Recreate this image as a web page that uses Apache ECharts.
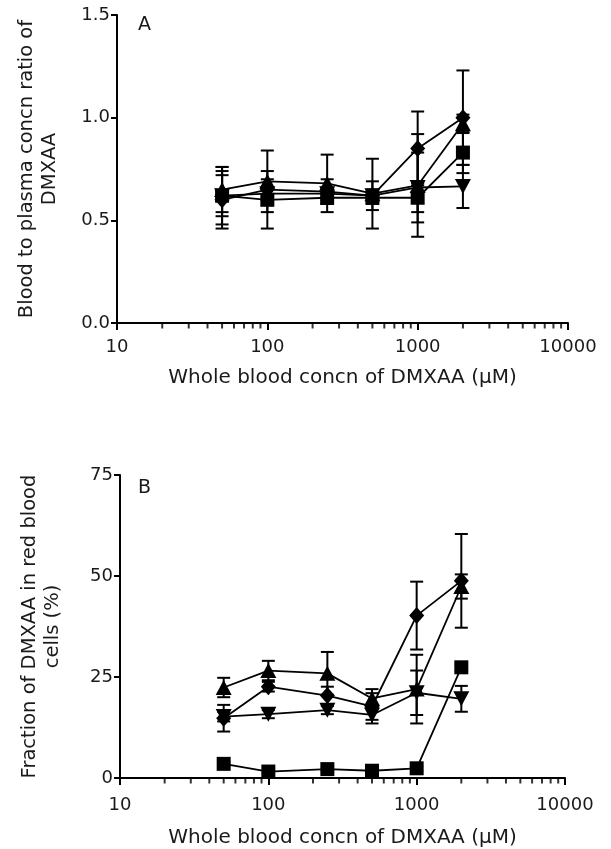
<!DOCTYPE html>
<html>
<head>
<meta charset="utf-8">
<script src="https://cdn.jsdelivr.net/npm/echarts@6/dist/echarts.min.js"></script>
<style>
html, body { margin: 0; padding: 0; background: #fff; }
#chart { width: 611px; height: 849px; }
</style>
</head>
<body>
<div id="chart"></div>
<script>
// whole blood concentrations (µM)
const concs = [50, 100, 250, 500, 1000, 2000]

// panel A: blood to plasma ratio, mean and sd
const ratioDiamond = [0.60, 0.65, 0.64, 0.62, 0.85, 1.00]
const ratioDiamondSd = [0.14, 0.05, 0.06, 0.07, 0.18, 0.23]
const ratioTriangle = [0.65, 0.69, 0.68, 0.63, 0.67, 0.97]
const ratioTriangleSd = [0.11, 0.15, 0.14, 0.17, 0.25, 0.045]
const ratioSquare = [0.62, 0.60, 0.61, 0.61, 0.61, 0.83]
const ratioSquareSd = [0.10, 0.14, 0.03, 0.03, 0.07, 0.10]
const ratioInv = [0.62, 0.63, 0.63, 0.62, 0.66, 0.665]
const ratioInvSd = [0.14, 0.03, 0.03, 0.03, 0.17, 0.105]

// panel B: fraction in red blood cells (%)
const rbcDiamond = [14.8, 22.6, 20.4, 17.7, 40.2, 48.8]
const rbcDiamondSd = [3.3, 1.2, 2.2, 3.3, 8.4, 11.6]
const rbcTriangle = [22.4, 26.6, 25.9, 19.7, 22.0, 47.4]
const rbcTriangleSd = [2.4, 2.4, 5.3, 2.3, 8.5, 3.0]
const rbcSquare = [3.5, 1.6, 2.2, 1.8, 2.4, 27.4]
const rbcSquareSd = [0.5, 0.4, 0.5, 0.4, 0.6, 0.8]
const rbcInv = [15.2, 15.8, 16.8, 15.6, 21.1, 19.6]
const rbcInvSd = [1.2, 1.0, 1.0, 2.1, 5.5, 3.2]

const xTicks = [10, 100, 1000, 10000]
const minorTickValues = [20, 30, 40, 50, 60, 70, 80, 90,
  200, 300, 400, 500, 600, 700, 800, 900,
  2000, 3000, 4000, 5000, 6000, 7000, 8000, 9000]

const FONT = 'DejaVu Sans'
const INK = '#1a1a1a'
const chart = echarts.init(document.getElementById('chart'))

const pair = (vals) => concs.map((c, i) => [c, vals[i]])
const triple = (vals, sds) => concs.map((c, i) => [c, vals[i], sds[i]])

function errorBar(params, api) {
  const x = api.value(0)
  const m = api.value(1)
  const sd = api.value(2)
  const hi = api.coord([x, m + sd])
  const lo = api.coord([x, m - sd])
  const w = 6.5
  const st = { stroke: '#000', lineWidth: 2 }
  return {
    type: 'group',
    children: [
      { type: 'line', shape: { x1: hi[0], y1: hi[1], x2: lo[0], y2: lo[1] }, style: st },
      { type: 'line', shape: { x1: hi[0] - w, y1: hi[1], x2: hi[0] + w, y2: hi[1] }, style: st },
      { type: 'line', shape: { x1: lo[0] - w, y1: lo[1], x2: lo[0] + w, y2: lo[1] }, style: st }
    ]
  }
}

const markers = [
  { symbol: 'diamond', size: [15, 17], rotate: 0 },
  { symbol: 'triangle', size: [16, 15], rotate: 0 },
  { symbol: 'rect', size: [14, 14], rotate: 0 },
  { symbol: 'triangle', size: [16, 15], rotate: 180 }
]

function panelSeries(idx, means, sds) {
  const out = []
  means.forEach((m, k) => {
    out.push({
      type: 'custom',
      xAxisIndex: idx,
      yAxisIndex: idx,
      renderItem: errorBar,
      data: triple(m, sds[k]),
      encode: { x: 0, y: 1 },
      z: 1,
      silent: true
    })
  })
  means.forEach((m, k) => {
    out.push({
      type: 'line',
      xAxisIndex: idx,
      yAxisIndex: idx,
      data: pair(m),
      symbol: markers[k].symbol,
      symbolSize: markers[k].size,
      symbolRotate: markers[k].rotate,
      showSymbol: true,
      itemStyle: { color: '#000' },
      lineStyle: { color: '#000', width: 1.8 },
      z: 3
    })
  })
  // minor log ticks under the x axis
  out.push({
    type: 'scatter',
    xAxisIndex: idx,
    yAxisIndex: idx,
    data: minorTickValues.map(v => [v, 0]),
    symbol: 'rect',
    symbolSize: [2, 5],
    symbolOffset: [0, 3],
    itemStyle: { color: '#000' },
    clip: false,
    silent: true,
    z: 4
  })
  return out
}

const axisLine = { show: true, onZero: false, lineStyle: { color: '#000', width: 2 } }
const axisTick = { show: true, length: 6, lineStyle: { color: '#000', width: 2 } }
const labelStyle = { color: INK, fontFamily: FONT, fontSize: 18 }

function xAxisFor(gridIndex, margin, nameGap) {
  return {
    type: 'log',
    gridIndex,
    logBase: 10,
    min: 10,
    max: 10000,
    axisLine,
    axisTick: { ...axisTick, length: 7 },
    axisLabel: { ...labelStyle, margin, formatter: v => (xTicks.includes(v) ? String(v) : '') },
    splitLine: { show: false },
    name: 'Whole blood concn of DMXAA (μM)',
    nameLocation: 'middle',
    nameGap,
    nameTextStyle: { color: INK, fontFamily: FONT, fontSize: 20 }
  }
}

function yAxisFor(gridIndex, max, interval, digits, name) {
  return {
    type: 'value',
    gridIndex,
    min: 0,
    max,
    interval,
    axisLine,
    axisTick: { ...axisTick, inside: false },
    axisLabel: { ...labelStyle, margin: 7, formatter: v => v.toFixed(digits) },
    splitLine: { show: false },
    name,
    nameLocation: 'middle',
    nameGap: 56,
    nameTextStyle: { color: INK, fontFamily: FONT, fontSize: 19.5, lineHeight: 23, align: 'center' }
  }
}

chart.setOption({
  animation: false,
  backgroundColor: '#fff',
  grid: [
    { left: 117, top: 15, width: 451, height: 308 },
    { left: 120, top: 475, width: 445, height: 303 }
  ],
  title: [
    { text: 'A', left: 133, top: 11, textStyle: { fontFamily: FONT, fontSize: 19, fontWeight: 'normal', color: INK } },
    { text: 'B', left: 133, top: 474, textStyle: { fontFamily: FONT, fontSize: 19, fontWeight: 'normal', color: INK } }
  ],
  xAxis: [xAxisFor(0, 15, 45), xAxisFor(1, 18, 50)],
  yAxis: [
    yAxisFor(0, 1.5, 0.5, 1, 'Blood to plasma concn ratio of\nDMXAA'),
    yAxisFor(1, 75, 25, 0, 'Fraction of DMXAA in red blood\ncells (%)')
  ],
  series: [
    ...panelSeries(0,
      [ratioDiamond, ratioTriangle, ratioSquare, ratioInv],
      [ratioDiamondSd, ratioTriangleSd, ratioSquareSd, ratioInvSd]),
    ...panelSeries(1,
      [rbcDiamond, rbcTriangle, rbcSquare, rbcInv],
      [rbcDiamondSd, rbcTriangleSd, rbcSquareSd, rbcInvSd])
  ]
})
</script>
</body>
</html>
